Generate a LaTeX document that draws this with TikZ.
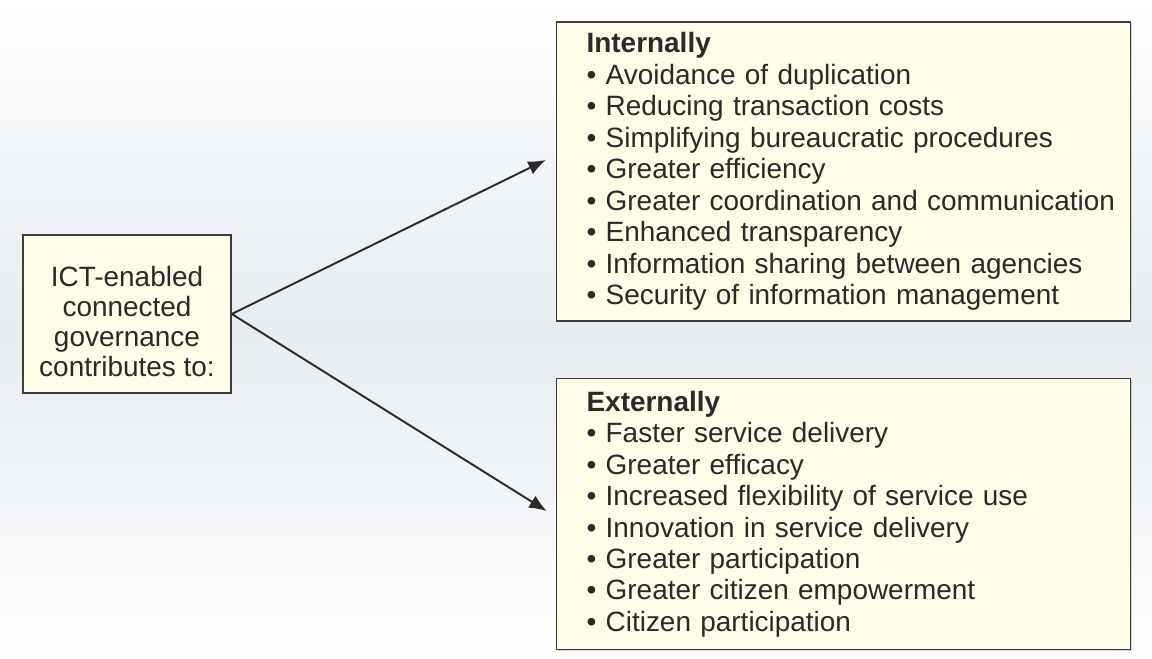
\documentclass[tikz,border=0pt]{standalone}
\usepackage{fontspec}
\setmainfont{Liberation Sans}
\usetikzlibrary{positioning, arrows.meta, shadows}
\definecolor{boxfill}{HTML}{FFFCE8}
\definecolor{boxline}{HTML}{3C3C3C}
\definecolor{inktext}{HTML}{2A2A2A}
\definecolor{haze}{HTML}{E6ECF0}
\tikzset{
  box/.style={
    draw=boxline,
    line width=0.9pt,
    rectangle,
    fill=boxfill,
    text=inktext,
    drop shadow={opacity=0.3, shadow xshift=0.7pt, shadow yshift=-0.7pt}
  },
  listbox/.style={
    box,
    minimum width=11.48cm,
    text width=10.28cm,
    inner xsep=0.6cm,
    align=left,
    font=\fontsize{15.9}{17.9}\selectfont
  },
  link/.style={
    line width=1.1pt,
    draw=inktext,
    -{Latex[length=10pt,width=8pt]}
  }
}

\begin{document}
\begin{tikzpicture}
    \shade[top color=white, bottom color=white, middle color=haze] (0,0) rectangle (23.04,-13.16);
    \node[box, minimum width=4.16cm, minimum height=3.16cm, align=center,
          font=\fontsize{15.9}{17}\selectfont] (ict) at (2.54,-6.28)
          {\rule{0pt}{20pt}ICT-enabled\\connected\\governance\\contributes to:};
    \node[listbox, minimum height=5.98cm, right=6.48cm of ict, yshift=2.85cm] (intern) {%
        \textbf{Internally}\\
        • Avoidance of duplication\\
        • Reducing transaction costs\\
        • Simplifying bureaucratic procedures\\
        • Greater efficiency\\
        \mbox{• Greater coordination and communication}\\
        • Enhanced transparency\\
        • Information sharing between agencies\\
        • Security of information management};
    \node[listbox, minimum height=5.42cm, below=1.12cm of intern] (extern) {%
        \textbf{Externally}\\
        • Faster service delivery\\
        • Greater efficacy\\
        • Increased flexibility of service use\\
        • Innovation in service delivery\\
        • Greater participation\\
        • Greater citizen empowerment\\
        • Citizen participation};

    \draw[link] (ict.east) -- ([xshift=-0.2cm, yshift=0.23cm]intern.west);
    \draw[link] (ict.east) -- ([xshift=-0.18cm, yshift=0.06cm]extern.west);
\end{tikzpicture}
\end{document}
